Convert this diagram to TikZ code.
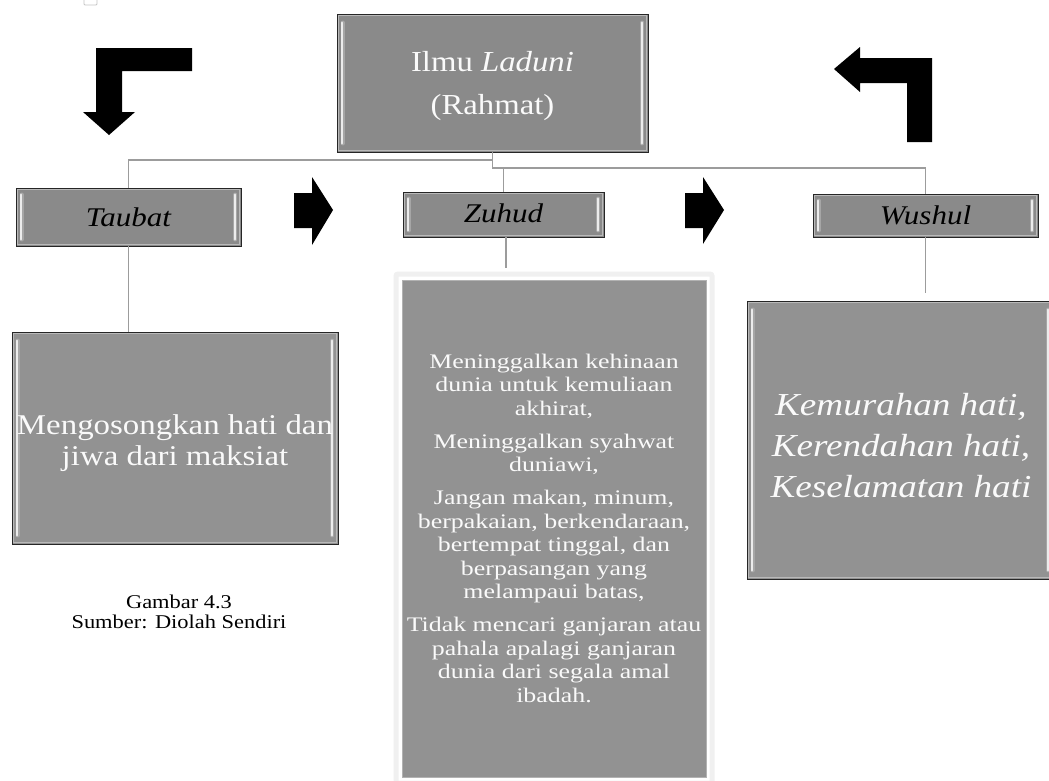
\documentclass[tikz,border=0pt]{standalone}
\usepackage{fontspec}
\setmainfont{Liberation Serif}
\newfontfamily\stA[FakeStretch=1.13]{Liberation Serif}
\newfontfamily\stB[FakeStretch=1.15]{Liberation Serif}
\newfontfamily\stC[FakeStretch=1.25]{Liberation Serif}
\newfontfamily\stD[FakeStretch=1.16]{Liberation Serif}
\definecolor{boxgray}{HTML}{8A8A8A}
\definecolor{descgray}{HTML}{929292}
\definecolor{conngray}{HTML}{9C9C9C}
\newcommand\bevelfx[2]{%
  \draw[bevdark] ([shift={(6,#2)}]#1.north west) -- ([shift={(6,-#2)}]#1.south west);
  \draw[bevlight] ([shift={(5.5,#2)}]#1.north west) -- ([shift={(5.5,-#2)}]#1.south west);
  \draw[bevdark] ([shift={(-6,#2)}]#1.north east) -- ([shift={(-6,-#2)}]#1.south east);
  \draw[bevlight] ([shift={(-6.5,#2)}]#1.north east) -- ([shift={(-6.5,-#2)}]#1.south east);
  \draw[innerframe] ([shift={(2,2)}]#1.north west) rectangle ([shift={(-2,-2)}]#1.south east);
}
\begin{document}
\begin{tikzpicture}[x=1pt,y=-1pt,
  box/.style={rectangle, draw=black!85, line width=0.9pt, fill=boxgray, inner sep=0pt},
  dbox/.style={box, fill=descgray},
  bevdark/.style={draw=gray!70, line width=4pt, line cap=round},
  bevlight/.style={draw=gray!15, line width=2.2pt, line cap=round},
  innerframe/.style={draw=gray!55, line width=0.7pt},
  wtext/.style={text=white!96!gray, align=center, inner sep=0pt},
  ktext/.style={text=black, align=center, inner sep=0pt, font=\stB\fontsize{27}{30}\selectfont\itshape},
  conn/.style={draw=conngray, line width=1.3pt},
  blockarrow/.style={fill=black, draw=none}]
\useasboundingbox (0,0) rectangle (1049,780);
\fill[white] (0,0) rectangle (1049,780);
% small artifact mark at the top
\draw[gray!45, line width=0.8pt, rounded corners=1pt] (84,-4) rectangle (97,5);

% boxes
\node[box, minimum width=311pt, minimum height=138pt] (top) at (492.5,83) {};
\node[box, minimum width=225pt, minimum height=58pt] (taubat) at (128.5,217) {};
\node[box, minimum width=201pt, minimum height=45pt] (zuhud) at (503.5,214.5) {};
\node[box, minimum width=225pt, minimum height=43pt] (wushul) at (925.5,215.5) {};
\node[dbox, minimum width=326pt, minimum height=212pt] (taubatd) at (175,438) {};
\draw[gray!12, line width=5pt, rounded corners=2pt] (396,274) rectangle (712,783);
\node[dbox, draw=gray!60, minimum width=304pt, minimum height=497pt] (zuhudd) at (554,528.5) {};
\node[dbox, minimum width=307pt, minimum height=278pt] (wushuld) at (900.5,440) {};

\bevelfx{top}{9}
\bevelfx{taubat}{7}
\bevelfx{zuhud}{7}
\bevelfx{wushul}{7}
\bevelfx{taubatd}{9}
\bevelfx{wushuld}{9}

% texts
\node[wtext, font=\stA\fontsize{29}{43}\selectfont] (topt) at (492.5,86) {Ilmu \textit{Laduni}\\(Rahmat)};
\node[ktext] (taubatt) at (taubat) {Taubat};
\node[ktext] (zuhudt) at ([yshift=1pt]zuhud.center) {Zuhud};
\node[ktext] (wushult) at (wushul) {Wushul};
\node[wtext, font=\stB\fontsize{28.6}{30.5}\selectfont] (taubatdt) at (175,443) {Mengosongkan hati dan\\jiwa dari maksiat};
\node[wtext, font=\stC\fontsize{20.7}{23.5}\selectfont] (zuhuddt) at (554,528) {Meninggalkan kehinaan\\dunia untuk kemuliaan\\akhirat,\\[9.5pt]Meninggalkan syahwat\\duniawi,\\[9.5pt]Jangan makan, minum,\\berpakaian, berkendaraan,\\bertempat tinggal, dan\\berpasangan yang\\melampaui batas,\\[9.5pt]Tidak mencari ganjaran atau\\pahala apalagi ganjaran\\dunia dari segala amal\\ibadah.};
\node[wtext, font=\stD\fontsize{32}{41}\selectfont\itshape] (wushuldt) at (901,446) {Kemurahan hati,\\Kerendahan hati,\\Keselamatan hati};

% caption
\node[align=center, inner sep=0pt, font=\stB\fontsize{19.5}{20.5}\selectfont] (caption) at (179,612) {Gambar 4.3\\Sumber: Diolah Sendiri};

% connectors
\coordinate (j1) at (492.5,160);
\coordinate (j2) at (492.5,168);
\coordinate (zend) at ([shift={(2.5,31)}]zuhud.south);
\coordinate (wend) at ([shift={(0,56)}]wushul.south);
\draw[conn] (top.south) -- (j2) -| (wushul.north);
\draw[conn] (j1) -| (taubat.north);
\draw[conn] (zuhud.north) -- (zuhud.north |- j2);
\draw[conn] (taubat.south) -- (taubat.south |- taubatd.north);
\draw[conn] ([xshift=2.5pt]zuhud.south) -- (zend);
\draw[conn] (wushul.south) -- (wend);

% block arrows
\fill[blockarrow] (192,48) -- (96,48) -- (96,112) -- (83,112) -- (109,135) -- (135,112) -- (122,112) -- (122,71) -- (192,71) -- cycle;
\fill[blockarrow] (294,193) -- (312,193) -- (312,177) -- (333,210) -- (312,245) -- (312,228) -- (294,228) -- cycle;
\fill[blockarrow] (685,193) -- (703,193) -- (703,177) -- (724,210) -- (703,244) -- (703,228) -- (685,228) -- cycle;
\fill[blockarrow] (932,142) -- (907,142) -- (907,83) -- (860,83) -- (860,92) -- (834,69) -- (860,47) -- (860,58) -- (932,58) -- cycle;
\end{tikzpicture}
\end{document}
